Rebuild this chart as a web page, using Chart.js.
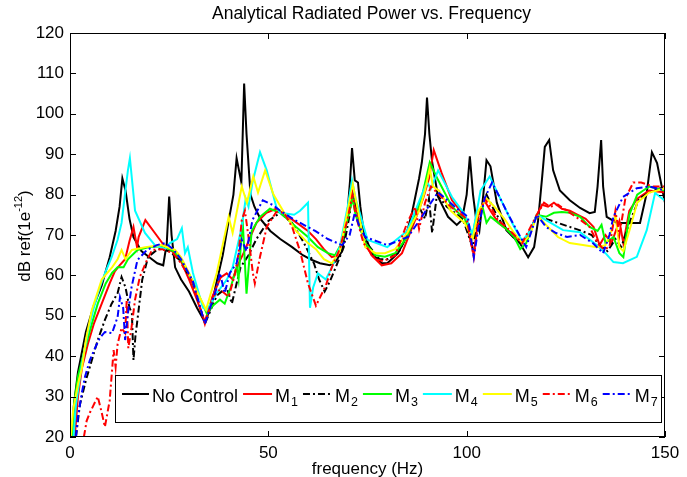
<!DOCTYPE html>
<html><head><meta charset="utf-8">
<style>html,body{margin:0;padding:0;background:#fff;} #wrap{width:687px;height:477px;position:relative;}</style>
<script src="https://cdn.jsdelivr.net/npm/chart.js@4/dist/chart.umd.min.js"></script>
</head><body><div id="wrap"><canvas id="c" width="687" height="477"></canvas></div>
<script>
// ---- data: [frequency (Hz), dB] ----
const noControl = [[0.4,20],[1,28],[2,36],[4,46],[6,52.5],[8,57.5],[9,61],[10,64.5],[11.5,71],[12.5,77],[13.2,84],[14,81],[15,74],[16,69.5],[18,66],[20,64.5],[22,63],[23.5,62.5],[24.4,68],[25,79.5],[25.6,70],[26.5,62],[28,59],[30,56],[32,52],[34,48.5],[35.5,52],[37,58.5],[38.5,65],[40,73.5],[41.2,80],[42,89],[42.6,86],[43.2,83],[43.9,107.5],[44.5,95],[45.5,80],[46.5,77],[48,74],[50.5,71],[53,69],[56,67],[58.7,65],[61,63.8],[63,63],[65.5,62.5],[67,63.5],[68.6,66],[70,76],[70.6,83.5],[71.1,91.5],[71.8,83.5],[72.6,83],[73.2,77],[74,71],[76,65.5],[78.6,63],[80,63],[82.7,65.5],[84.5,69],[86.2,75.4],[88,84],[88.7,88],[89.5,95],[90,104],[90.6,95],[91.3,88],[92.8,79.4],[95.3,74.5],[97.5,72.5],[98.8,73.7],[100,80],[100.8,89.5],[101.6,80],[102.5,73],[103.2,71],[104.2,80],[105,88.5],[106,87],[107.6,78],[110,71.2],[111.7,69.5],[113.4,68],[115.5,64.5],[117,67],[118,73.5],[119,84],[119.7,91.8],[120.8,93.5],[121.8,86],[123.5,81],[126,78.6],[128.6,76.7],[131,75.4],[132.3,75.7],[133,82],[133.9,93.5],[134.4,82],[135.3,74.5],[137.9,73],[143.7,73],[145.4,80.4],[146.7,90.5],[148,87.8],[149.5,80.4],[150,78]];
const m1 = [[1.2,20],[2,30],[3,37],[4.5,43],[6,48],[8,53],[10,58],[11.3,61],[12.5,62.5],[13.9,64],[15,68.5],[16,72],[16.9,67],[17.3,69.5],[19,73.7],[21.4,70.5],[24,67],[26.5,65.5],[28,63.5],[30,59],[32,54],[34,48.5],[36,55],[38,59.5],[39.5,60.5],[41,59],[42.5,63],[44,66],[45,68.5],[47,73],[49.5,75.5],[52,76.5],[56.5,73.5],[60,71],[62,69],[64,66.5],[66,64.5],[67.5,65],[69,70],[70.5,77],[71.1,80.5],[72,77],[74,69],[76,65],[78.6,62.5],[81,63],[83.7,65.5],[87,73.7],[89,79],[90.5,84],[91.7,91],[93.7,85.3],[96.3,78.6],[99.6,74.5],[101.8,65],[103,75],[104.5,78.5],[106,76],[108,73],[110,71.5],[112,70],[114,68],[116,71],[117.7,75],[119,77.5],[120.5,77],[122,78],[124,76.5],[126,76],[128,75],[130,74],[132,72],[133.5,67.5],[135,70],[136.5,68],[138.5,73.5],[139.5,68],[141,76],[143,79],[146,81],[150,80.5]];
const m2 = [[1.5,20],[2.5,28],[4,34],[5.5,39],[7,44],[8.8,49],[10.5,53],[12,55.6],[13,59.6],[14,57],[15,52],[15.6,50.7],[16,39],[16.5,45],[17,49],[18.2,58.9],[19.7,64.6],[22.3,66.6],[25,66],[28,63.5],[31,58],[34,48],[37,55],[39.5,57],[40.8,53],[42,58],[43,62],[45,65],[47,69],[50,73.5],[53,75.5],[56,73],[59,68],[61.5,63],[62.8,59],[64.2,56],[65.5,58.5],[67,62],[69,67],[70.5,75],[71.1,81],[72,78],[74.4,68.5],[78,64],[80,64],[83,66],[86,72],[88,77],[89.5,74],[90.5,79],[91.3,70.5],[92.5,80],[95,77],[99,74],[101.5,67],[103,75],[105,80],[107,76],[109,72.5],[111,70.5],[113,68],[115,69],[117.7,75],[120,74],[123,73],[126,72],[129,71],[131.5,70],[133.5,67.5],[135.5,66],[137.5,69],[139,67],[141,73],[143.5,79],[146,80.5],[150,82]];
const m3 = [[0.7,20],[1,28],[2,35],[3.8,42],[5.5,48],[7,53],[9,58],[10.6,60.6],[12,62],[13.5,62],[14.6,64],[17,66.3],[20,67],[23.5,67.2],[26,66],[28,64],[31,58.5],[34.5,50.5],[36,52.5],[37.8,54],[39,53],[40.5,57],[42,62],[42.5,59],[43.5,74],[44.5,55.5],[45.8,71],[47.9,74.5],[50.4,76.5],[53,75.5],[57,72],[60,69.5],[62.5,67],[65,65.5],[66.8,65],[68.5,68],[70.5,76],[71.2,79],[72,75],[74.4,68],[77,65],[79.4,64.6],[82,65.5],[85,69.5],[88.7,79.4],[90.7,88],[92.8,83.6],[96.3,77],[99.5,74],[101.5,70],[102.5,75],[104,77],[105,73],[106,74.5],[108,73],[110,71.5],[112,69.5],[113.5,66.5],[115,68],[117.7,75],[120,74.5],[122,75.5],[124,75.7],[126,75.5],[128.6,74.5],[131,72],[133,71],[134,72.5],[135,68],[137,69.5],[138.5,65.5],[139.5,64.5],[141,75],[143,80],[146,82],[150,81]];
const m4 = [[0.9,20],[1.5,28],[3,38],[4.5,46],[6,52],[7.5,57],[9,61],[10.5,64.5],[12,68.8],[13,73],[13.9,80.4],[14.6,86],[15.1,89],[15.8,82],[16.4,76],[18.9,70.5],[21.4,67.5],[24,66.5],[25.2,68],[27,69],[28.2,71.7],[29,65.5],[29.7,67],[31,60.6],[33.5,52],[34.5,51.4],[37,55.6],[39.5,58.9],[41,62],[43.3,72],[44.3,79],[45,77],[46,83],[47.9,90.5],[49.6,86],[52,77],[53,75.5],[56.5,75],[58,76],[60,78],[60.5,52],[61.3,57],[62.5,60.5],[64.5,59],[66,62],[68,67],[70,77],[71.1,83.5],[72,79],[75,68.8],[80,67],[85,71],[88.7,80],[90,83],[91,81.5],[92.8,86],[96.3,79.4],[99.6,75],[101.5,70],[103.5,81],[105.8,84.5],[108,80],[110,76],[112,72],[114,68.5],[116,71],[117.7,75],[120,73.7],[124.3,71.2],[128.6,70.7],[132.8,67.5],[135,65.5],[137,63.3],[139.4,63],[142.9,64.6],[145.4,71.2],[147.5,80.4],[150,78.5]];
const m5 = [[0.2,20],[0.8,26.7],[2,33],[3,37],[4,44],[5.5,51.4],[8,59],[10.6,62],[12,64],[13,66.3],[14,64],[15.6,66.3],[19,67],[23,67.5],[26.5,66.3],[28,64.5],[30,60.6],[32,56],[34.3,51.5],[37,60.6],[40,74.5],[41,70.5],[43.3,82],[44.6,78],[46.2,84.5],[47.4,80.5],[49.2,86],[51.3,80],[54,75.5],[57,71],[60,68],[62,66.5],[64,64],[66,63],[68,66],[70,76],[71.3,82.5],[72.2,78],[74.4,67],[77,65.5],[79.4,65.5],[82,66.5],[85,70.5],[88,76],[89.5,81],[90.7,86.5],[91.5,82],[93,81],[96,76],[99.5,73],[101.5,69],[103,76],[105,79],[107,77],[109.5,74],[112,70.5],[114,68],[116,70],[117.7,75],[120,72.5],[123,69.5],[126,68],[129.3,67.5],[132.8,67],[135,67.5],[136.5,71],[137.5,75],[138.5,67],[139.5,66],[141,71],[143,78],[146,80.5],[150,81.5]];
const m6 = [[3.5,20],[4.2,24],[5,26],[6,28],[7,30],[8,26],[8.8,22.5],[10,29],[11,41.5],[11.5,37.3],[12,43],[13,47],[13.9,45.7],[14.3,54],[14.7,42],[15.5,47],[16.4,54],[17.6,59.6],[19.4,63.8],[20.7,66.3],[23.2,66.5],[26,65.5],[28,63],[31,58],[34,48],[36,54.7],[37.8,56.5],[40,54.7],[41.5,60],[42.5,65.5],[43.3,73.7],[44.1,76],[45,69.5],[46.1,60.6],[46.6,58],[47.9,64.6],[49.6,72],[52,75.7],[54,75.5],[56,72],[58,66],[60,58],[62,52.5],[64.5,57.5],[66,62],[68,66.5],[70,74],[71.2,80],[72,75],[74,68],[77,64],[79,63.5],[82,65],[85,73],[87,77],[88,71.5],[89.5,78],[91,82],[93,80],[96,77],[100,74],[101.8,64.5],[103,74],[104.5,79],[106,77],[108,73.5],[110,72],[112,70],[114,68],[117.7,75],[119.5,78],[121,77],[123,77.5],[126,75.5],[129,73.5],[131,72],[133,68],[134.5,66.5],[136,67],[137.5,76],[138.5,70],[140,79],[142,83],[144,83],[147,82],[150,82]];
const m7 = [[1.5,20],[2,25],[3,31],[3.8,35],[5,39],[6.3,42],[7.5,44.5],[8.8,46],[10.6,45.7],[12,49.7],[12.6,54.6],[13.4,52],[13.9,44],[14.7,51.4],[15.5,57],[17,63.8],[19.4,66.3],[21.9,67.5],[24,68],[26,66.5],[28,64],[31,58.5],[34,48],[37,57],[37.8,60.6],[39,55.6],[40.3,60.6],[42,63],[43.3,68.8],[44.5,66],[46,73.7],[48.6,78.6],[51.2,77.4],[53,76],[56.7,73.7],[61.8,71],[65,69],[68.6,67.5],[70.5,70],[71.8,75.5],[73,72],[74.4,69.5],[80,67.5],[85.2,69.5],[88.7,74.5],[91,78],[92.8,80.6],[97,77],[100.3,74.5],[101.8,64.5],[103,72],[104.5,79],[106.4,83],[108.5,79],[110.5,75],[113,70.5],[115,67],[117.7,75],[120,72],[122.5,70.5],[125.3,69.5],[128.6,70],[131.8,68],[134.4,65.5],[136,70],[137,74.5],[139.4,79.4],[142.9,81.6],[146,82],[150,81]];

const seriesNames = ['No Control','M','M','M','M','M','M','M'];
const seriesSubs = ['','1','2','3','4','5','6','7'];
const xTickValues = [0,50,100,150];
const yTickValues = [20,30,40,50,60,70,80,90,100,110,120];
const titleText = 'Analytical Radiated Power vs. Frequency';
const xLabelText = 'frequency (Hz)';
const yLabelMain = 'dB ref(1e';
const yLabelSup = '-12';
const yLabelEnd = ')';

// ---- styles ----
const FONT = '"Liberation Sans", Arial, Helvetica, sans-serif';
const DASHDOT = [7,3,2,3];
const styles = [
  {color:'#000000', dash:[]},
  {color:'#ff0000', dash:[]},
  {color:'#000000', dash:DASHDOT},
  {color:'#00ff00', dash:[]},
  {color:'#00ffff', dash:[]},
  {color:'#ffff00', dash:[]},
  {color:'#ff0000', dash:DASHDOT},
  {color:'#0000ff', dash:DASHDOT}
];
const allData = [noControl, m1, m2, m3, m4, m5, m6, m7];

const datasets = allData.map((d, i) => ({
  label: seriesNames[i] + seriesSubs[i],
  data: d.map(p => ({x: p[0], y: p[1]})),
  borderColor: styles[i].color,
  backgroundColor: styles[i].color,
  borderDash: styles[i].dash,
  borderWidth: 2,
  pointRadius: 0,
  tension: 0,
  fill: false,
  order: allData.length - i
}));

const framePlugin = {
  id: 'frame',
  afterDraw(chart) {
    const ctx = chart.ctx;
    const a = chart.chartArea;
    const xs = chart.scales.x, ys = chart.scales.y;
    ctx.save();
    ctx.strokeStyle = '#000';
    ctx.lineWidth = 1;
    ctx.setLineDash([]);
    ctx.strokeRect(Math.round(a.left) + 0.5, Math.round(a.top) + 0.5, Math.round(a.right - a.left) - 1, Math.round(a.bottom - a.top) - 1);
    const TL = 6;
    ctx.beginPath();
    yTickValues.forEach(v => {
      const y = Math.round(ys.getPixelForValue(v)) + 0.5;
      ctx.moveTo(a.left, y); ctx.lineTo(a.left + TL, y);
      ctx.moveTo(a.right, y); ctx.lineTo(a.right - TL, y);
    });
    xTickValues.forEach(v => {
      const x = Math.round(xs.getPixelForValue(v)) + 0.5;
      ctx.moveTo(x, a.bottom); ctx.lineTo(x, a.bottom - TL);
      ctx.moveTo(x, a.top); ctx.lineTo(x, a.top + TL);
    });
    ctx.stroke();
    ctx.fillStyle = '#000';
    ctx.font = '17.5px ' + FONT;
    ctx.textAlign = 'center';
    ctx.textBaseline = 'alphabetic';
    ctx.fillText(titleText, (a.left + a.right) / 2 + 4, 19);
    ctx.font = '17px ' + FONT;
    ctx.fillText(xLabelText, (a.left + a.right) / 2, 474);
    ctx.save();
    ctx.translate(30, 236);
    ctx.rotate(-Math.PI / 2);
    ctx.textAlign = 'left';
    const big = '17px ' + FONT, small = '11px ' + FONT;
    ctx.font = big; const w1 = ctx.measureText(yLabelMain).width; const w3 = ctx.measureText(yLabelEnd).width;
    ctx.font = small; const w2 = ctx.measureText(yLabelSup).width;
    let x = -(w1 + w2 + w3) / 2;
    ctx.font = big; ctx.fillText(yLabelMain, x, 0); x += w1;
    ctx.font = small; ctx.fillText(yLabelSup, x, -8); x += w2;
    ctx.font = big; ctx.fillText(yLabelEnd, x, 0);
    ctx.restore();
    // legend
    const L = {left: 115, top: 375, right: 662, bottom: 423};
    ctx.fillStyle = '#fff';
    ctx.fillRect(L.left, L.top, L.right - L.left, L.bottom - L.top);
    ctx.strokeStyle = '#000';
    ctx.lineWidth = 1;
    ctx.strokeRect(L.left + 0.5, L.top + 0.5, L.right - L.left - 1, L.bottom - L.top - 1);
    let cx = 122;
    const lineY = 394, baseY = 401.5;
    for (let i = 0; i < styles.length; i++) {
      const lineLen = i === 0 ? 27 : 29;
      ctx.strokeStyle = styles[i].color;
      ctx.lineWidth = 2;
      ctx.setLineDash(styles[i].dash);
      ctx.beginPath(); ctx.moveTo(cx, lineY); ctx.lineTo(cx + lineLen, lineY); ctx.stroke();
      ctx.setLineDash([]);
      cx += lineLen + 3;
      ctx.fillStyle = '#000';
      ctx.textAlign = 'left';
      ctx.font = '18px ' + FONT;
      ctx.fillText(seriesNames[i], cx, baseY);
      cx += ctx.measureText(seriesNames[i]).width;
      if (seriesSubs[i]) {
        ctx.font = '12.5px ' + FONT;
        ctx.fillText(seriesSubs[i], cx + 1, baseY + 4);
        cx += ctx.measureText(seriesSubs[i]).width + 1;
      }
      cx += 5;
    }
    ctx.restore();
  }
};

new Chart(document.getElementById('c'), {
  type: 'line',
  data: { datasets },
  options: {
    responsive: false,
    animation: false,
    devicePixelRatio: 1,
    layout: { padding: { left: 0, right: 22, top: 33, bottom: 0 } },
    plugins: { legend: { display: false }, tooltip: { enabled: false }, title: { display: false } },
    scales: {
      x: {
        type: 'linear', min: 0, max: 150,
        afterBuildTicks: s => { s.ticks = xTickValues.map(v => ({ value: v })); },
        afterFit: s => { s.height = 40; },
        grid: { display: false, drawTicks: false },
        border: { display: false },
        ticks: { color: '#000', font: { family: FONT, size: 17 }, padding: 6, maxRotation: 0, autoSkip: false }
      },
      y: {
        type: 'linear', min: 20, max: 120,
        afterBuildTicks: s => { s.ticks = yTickValues.map(v => ({ value: v })); },
        afterFit: s => { s.width = 70; },
        grid: { display: false, drawTicks: false },
        border: { display: false },
        ticks: { color: '#000', font: { family: FONT, size: 17 }, padding: 6, autoSkip: false }
      }
    }
  },
  plugins: [framePlugin]
});
</script>
</body></html>
